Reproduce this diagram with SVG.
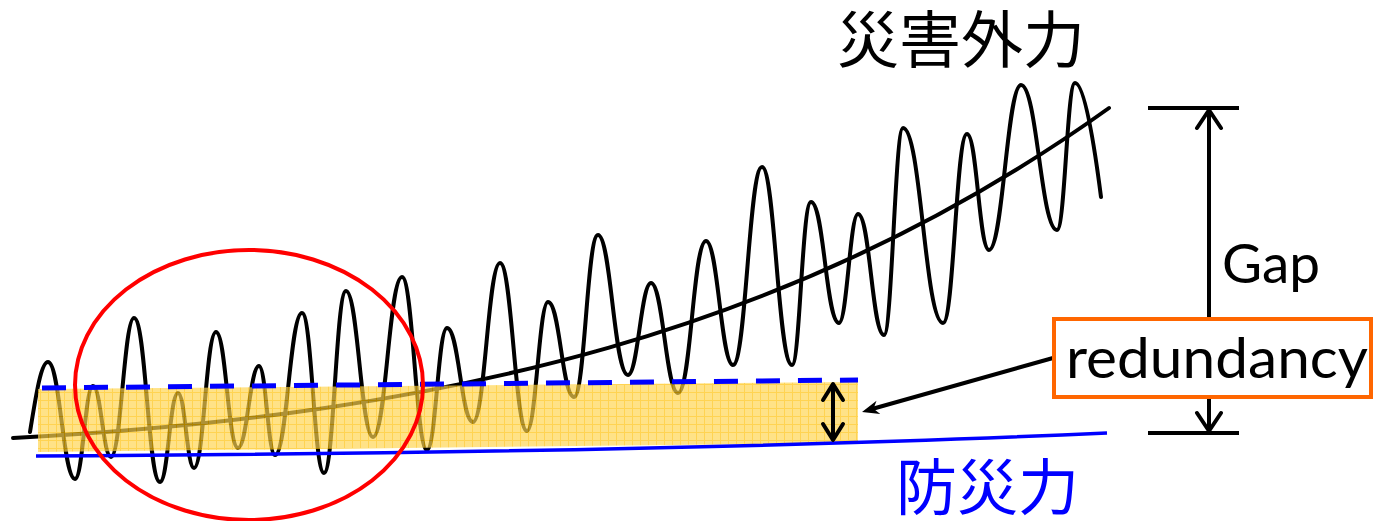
<svg xmlns="http://www.w3.org/2000/svg" width="1373" height="521" viewBox="0 0 1373 521">
<style>
.blk{fill:none;stroke:#000;stroke-width:4;stroke-linecap:round;stroke-linejoin:round}
.lbl{font-family:Lato,"Liberation Sans",sans-serif;fill:#000}
.cjk{font-family:"Noto Sans CJK JP","Noto Sans CJK SC",sans-serif}
</style>
<defs>
<pattern id="grid" width="8" height="8" patternUnits="userSpaceOnUse">
<rect width="8" height="8" fill="#FFD54F"/>
<path d="M0,0.5H8M0.5,0V8" stroke="#FFBF00" stroke-width="1"/>
</pattern>
</defs>
<g id="force-wave">
<path class="blk" d="M30,432 C36,395 41,362 48,362 C60,362 63,479 75,479 C83,479 85,386 93,386 C101,386 103,457 111,457 C121,457 124,318 134,318 C146,318 148,482 160,482 C168,482 170,393 178,393 C185,393 187,468 194,468 C204,468 206,332 216,332 C226,332 228,448 238,448 C247,448 250,366 259,366 C266,366 268,455 275,455 C287,455 290,313 302,313 C312,313 314,473 324,473 C334,473 336,291 346,291 C358,291 361,437 373,437 C386,437 389,277 402,277 C413,277 416,450 427,450 C436,450 438,328 447,328 C459,328 461,422 473,422 C485,422 488,263 500,263 C512,263 515,431 527,431 C536,431 539,302 548,302 C560,302 562,397 574,397 C585,397 587,235 598,235 C611,235 614,375 628,375 C638,375 641,283 651,283 C663,283 666,393 678,393 C691,393 693,241 706,241 C718,241 721,365 733,365 C746,365 749,167 762,167 C775,167 778,365 792,365 C800,365 802,202 811,202 C824,202 826,323 839,323 C847,323 850,214 858,214 C870,214 872,335 884,335 C892,335 895,128 903,128 C921,128 925,323 943,323 C954,323 956,134 967,134 C977,134 979,250 989,250 C1003,250 1007,85 1021,85 C1037,85 1041,230 1057,230 C1065,230 1067,83 1075,83 C1085,83 1095,150 1101,197"/>
</g>
<g id="force-trend">
<path class="blk" stroke-width="3.8" d="M13,438 C450,415 800,330 1109,108"/>
</g>
<g id="redundancy-band">
<polygon points="38,389 858,382 858,443 38,452" fill="url(#grid)" opacity="0.68"/>
<path d="M42,388 L858,380" fill="none" stroke="#0000FF" stroke-width="5" stroke-dasharray="24 18"/>
</g>
<g id="prevention-line">
<path d="M36,456 C400,454 800,447 1107,433" fill="none" stroke="#0000FF" stroke-width="3.5"/>
</g>
<g id="highlight-ellipse">
<ellipse cx="249" cy="385" rx="174" ry="135" fill="none" stroke="#FF0000" stroke-width="4"/>
</g>
<g id="connectors">
<path class="blk" stroke-width="2.5" d="M833,385 V439 M823,400 L833,384 L843,400 M823,424 L833,440 L843,424"/>
<path class="blk" stroke-width="3" d="M1053,358 L872,409"/>
<polygon points="862,412 876.5,400.7 873.5,408.7 880.3,414.1" fill="#000"/>
<path d="M1148,108 H1239 M1148,433 H1239" stroke="#000" stroke-width="4" fill="none"/>
<path class="blk" stroke-width="3" d="M1209,110 V319 M1209,397 V431 M1197,128 L1209,110 L1221,128 M1197,413 L1209,431 L1221,413"/>
</g>
<g id="gap-label">
<text class="lbl" x="1222" y="283" font-size="55" textLength="98" lengthAdjust="spacingAndGlyphs">Gap</text>
</g>
<g id="redundancy-box">
<rect x="1054" y="319" width="317" height="78" fill="#fff" stroke="#FF6600" stroke-width="4"/>
<text class="lbl" x="1066" y="378" font-size="57" textLength="302" lengthAdjust="spacingAndGlyphs">redundancy</text>
</g>
<g id="title-external-force">
<text class="cjk" x="837" y="63" font-size="62" fill="#000">災害外力</text>
</g>
<g id="title-prevention">
<text class="cjk" x="896" y="510" font-size="61" fill="#0000FF">防災力</text>
</g>
</svg>
